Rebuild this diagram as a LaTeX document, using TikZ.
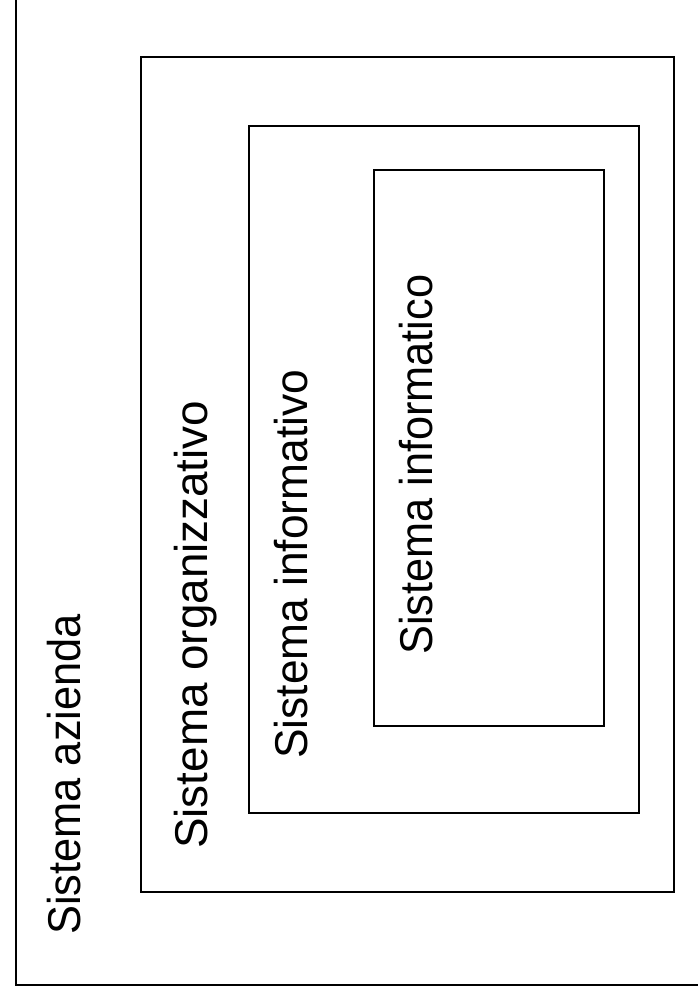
\documentclass[tikz,border=0pt]{standalone}
\usepackage{fontspec}
\setmainfont{Liberation Sans}
\begin{document}
\begin{tikzpicture}[x=1pt,y=1pt,
  outerbox/.style={draw=black,line width=1.6pt},
  innerbox/.style={draw=black,line width=1.2pt},
  label/.style={rotate=90,anchor=base west,inner sep=0pt,
    font=\fontsize{46}{55}\selectfont}]
\useasboundingbox (0,0) rectangle (698,994);
\begin{scope}
\clip (0,0) rectangle (698,994);
% nested systems, outermost first
\draw[outerbox] (16,9) rectangle (720,1020);
\draw[innerbox] (141,102) rectangle (674,937);
\draw[innerbox] (249,181) rectangle (639,868);
\draw[innerbox] (374,268) rectangle (604,824);
\end{scope}
\node[label] (azienda) at (80,59) {\scalebox{0.943}[1]{Sistema azienda}};
\node[label] (organizzativo) at (207,145) {\scalebox{0.996}[1]{Sistema organizzativo}};
\node[label] (informativo) at (307,235) {\scalebox{0.963}[1]{Sistema informativo}};
\node[label] (informatico) at (432,339) {\scalebox{0.941}[1]{Sistema informatico}};
\end{tikzpicture}
\end{document}
